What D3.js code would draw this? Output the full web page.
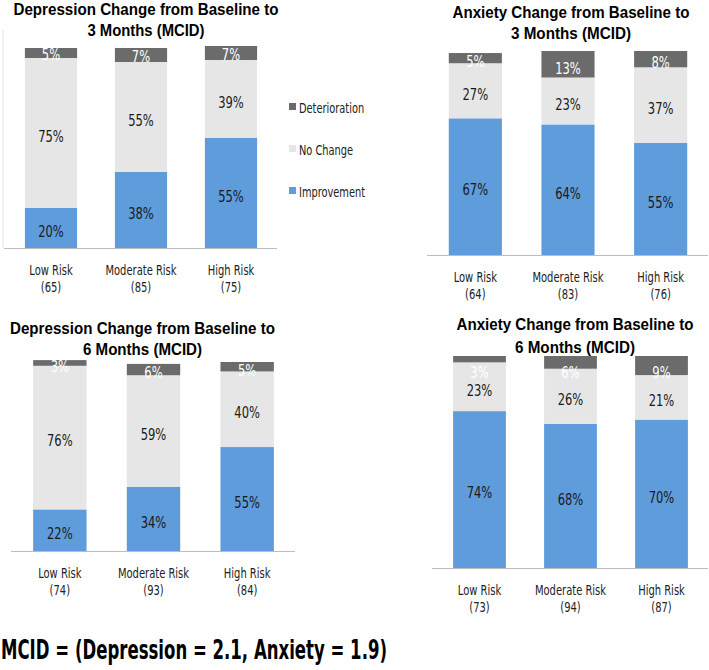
<!DOCTYPE html>
<html>
<head>
<meta charset="utf-8">
<script src="https://cdn.jsdelivr.net/npm/d3@7/dist/d3.min.js"></script>
<style>
  html, body { margin: 0; padding: 0; background: #fff; }
  svg { display: block; }
  .title { font-family: "Liberation Sans", Arial, sans-serif; font-weight: bold; font-size: 16px; fill: #000; }
  .val { font-family: "DejaVu Sans Condensed", "DejaVu Sans", sans-serif; font-size: 16px; }
  .cat { font-family: "DejaVu Sans Condensed", "DejaVu Sans", sans-serif; font-size: 13.5px; fill: #222; }
  .leg { font-family: "DejaVu Sans Condensed", "DejaVu Sans", sans-serif; font-size: 14px; fill: #222; }
  .foot { font-family: "DejaVu Sans Condensed", "DejaVu Sans", sans-serif; font-weight: bold; font-size: 26px; fill: #000; }
</style>
</head>
<body>
<svg id="chart" width="709" height="670"></svg>
<script>
// ---------------- DATA ----------------
const categories = ["Low Risk", "Moderate Risk", "High Risk"];
const seriesNames = ["Improvement", "No Change", "Deterioration"];
const legendOrder = ["Deterioration", "No Change", "Improvement"];

const titleDep3 = ["Depression Change from Baseline to", "3 Months (MCID)"];
const titleAnx3 = ["Anxiety Change from Baseline to", "3 Months (MCID)"];
const titleDep6 = ["Depression Change from Baseline to", "6 Months (MCID)"];
const titleAnx6 = ["Anxiety Change from Baseline to", "6 Months (MCID)"];

const nDep3 = [65, 85, 75];
const nAnx3 = [64, 83, 76];
const nDep6 = [74, 93, 84];
const nAnx6 = [73, 94, 87];

const dep3Improvement = [20, 38, 55];
const dep3NoChange = [75, 55, 39];
const dep3Deterioration = [5, 7, 7];

const anx3Improvement = [67, 64, 55];
const anx3NoChange = [27, 23, 37];
const anx3Deterioration = [5, 13, 8];

const dep6Improvement = [22, 34, 55];
const dep6NoChange = [76, 59, 40];
const dep6Deterioration = [3, 6, 5];

const anx6Improvement = [74, 68, 70];
const anx6NoChange = [23, 26, 21];
const anx6Deterioration = [3, 6, 9];

const footnote = "MCID = (Depression = 2.1, Anxiety = 1.9)";

// ---------------- STYLE / LAYOUT ----------------
const colors = { "Improvement": "#5f9cdb", "No Change": "#e6e6e6", "Deterioration": "#6b6b6b" };
const labelColors = { "Improvement": "#1a1a1a", "No Change": "#1a1a1a", "Deterioration": "#ffffff" };

const panels = [
  { title: titleDep3, n: nDep3, vals: [dep3Improvement, dep3NoChange, dep3Deterioration],
    x0: 6, x1: 276, yBase: 248, yTop: 48, inner: 0.42, tx: 146, ty: [15, 36], tw: [265, 117], detDy: 1, detMin: 0, frame: true },
  { title: titleAnx3, n: nAnx3, vals: [anx3Improvement, anx3NoChange, anx3Deterioration],
    x0: 429, x1: 707, yBase: 255, yTop: 51, inner: 0.427, tx: 571, ty: [18, 39], tw: [237, 120], detDy: 3.5, detMin: 0 },
  { title: titleDep6, n: nDep6, vals: [dep6Improvement, dep6NoChange, dep6Deterioration],
    x0: 13, x1: 294, yBase: 551, yTop: 362, inner: 0.43, tx: 142.5, ty: [334, 355], tw: [265, 119], detDy: 3, detMin: 0 },
  { title: titleAnx6, n: nAnx6, vals: [anx6Improvement, anx6NoChange, anx6Deterioration],
    x0: 434, x1: 707, yBase: 568, yTop: 356, inner: 0.42, tx: 575, ty: [330, 353], tw: [237, 120], detDy: 6, detMin: 16 }
];

function condense(sel, f) {
  sel.each(function () {
    const w = this.getComputedTextLength();
    d3.select(this).attr("textLength", (w * f).toFixed(2)).attr("lengthAdjust", "spacingAndGlyphs");
  });
}

const svg = d3.select("#chart");

panels.forEach(p => {
  const g = svg.append("g");
  const x = d3.scaleBand().domain(categories).range([p.x0, p.x1])
    .paddingInner(p.inner).paddingOuter(p.inner / 2);
  const y = d3.scaleLinear().domain([0, 100]).range([p.yBase, p.yTop]);

  const rows = categories.map((c, i) => {
    const r = { cat: c, n: p.n[i] };
    seriesNames.forEach((s, k) => r[s] = p.vals[k][i]);
    return r;
  });
  const stacked = d3.stack().keys(seriesNames)(rows);

  if (p.frame) {
    g.append("line").attr("x1", 3).attr("x2", 3).attr("y1", 30).attr("y2", p.yBase)
      .attr("stroke", "#e3e3e3").attr("stroke-width", 1);
  }

  stacked.forEach(layer => {
    const key = layer.key;
    g.selectAll(null).data(layer).enter().append("rect")
      .attr("x", d => x(d.data.cat))
      .attr("width", x.bandwidth())
      .attr("y", d => y(d[1]))
      .attr("height", d => y(d[0]) - y(d[1]))
      .attr("fill", colors[key]);
  });

  stacked.forEach(layer => {
    const key = layer.key;
    const t = g.selectAll(null).data(layer).enter().append("text")
      .attr("class", "val")
      .attr("text-anchor", "middle")
      .attr("fill", labelColors[key])
      .attr("x", d => x(d.data.cat) + x.bandwidth() / 2)
      .attr("y", d => {
        const c = (y(d[0]) + y(d[1])) / 2;
        let vc = c + (key === "Deterioration" ? p.detDy : 3);
        if (key === "Deterioration" && p.detMin) vc = Math.max(vc, y(d[1]) + p.detMin);
        return vc + 5.8;
      })
      .text(d => d.data[key] + "%");
    condense(t, 0.8);
  });

  g.append("line").attr("x1", p.x0 - 2).attr("x2", p.x1 + 1)
    .attr("y1", p.yBase + 0.5).attr("y2", p.yBase + 0.5)
    .attr("stroke", "#bdbdbd").attr("stroke-width", 1.2);

  const labs = g.selectAll(null).data(rows).enter();
  const c1 = labs.append("text").attr("class", "cat").attr("text-anchor", "middle")
    .attr("x", d => x(d.cat) + x.bandwidth() / 2).attr("y", p.yBase + 27).text(d => d.cat);
  const c2 = labs.append("text").attr("class", "cat").attr("text-anchor", "middle")
    .attr("x", d => x(d.cat) + x.bandwidth() / 2).attr("y", p.yBase + 44).text(d => "(" + d.n + ")");
  condense(c1, 0.82);
  condense(c2, 0.82);

  p.title.forEach((t, i) => {
    g.append("text").attr("class", "title").attr("text-anchor", "middle")
      .attr("x", p.tx).attr("y", p.ty[i])
      .attr("textLength", p.tw[i]).attr("lengthAdjust", "spacingAndGlyphs")
      .text(t);
  });
});

// legend
const legY = d3.scalePoint().domain(legendOrder).range([106, 190]);
const leg = svg.append("g");
legendOrder.forEach(k => {
  leg.append("rect").attr("x", 289).attr("y", legY(k) - 3).attr("width", 7).attr("height", 7).attr("fill", colors[k]);
  const t = leg.append("text").attr("class", "leg").attr("x", 299).attr("y", legY(k) + 7).text(k);
  condense(t, 0.78);
});

// footnote
svg.append("text").attr("class", "foot").attr("x", 1).attr("y", 659)
  .attr("textLength", 386).attr("lengthAdjust", "spacingAndGlyphs").text(footnote);
</script>
</body>
</html>
